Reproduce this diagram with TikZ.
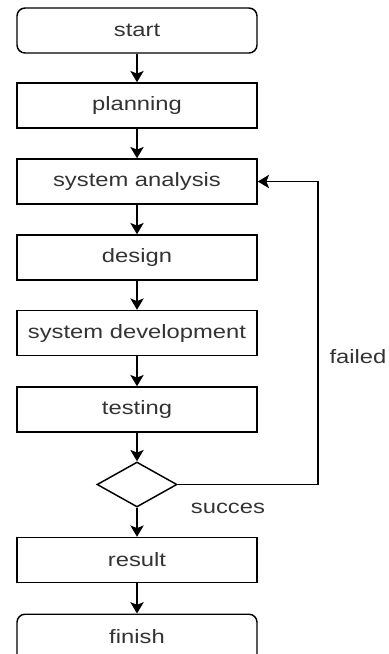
\documentclass[tikz,border=0pt]{standalone}
\usepackage{fontspec}
\setmainfont{Liberation Sans}
\usetikzlibrary{shapes.geometric,arrows.meta}

% stretched label text, as in the drawing
\newcommand{\widelabel}[1]{\scalebox{1.23}[1]{#1}}

\begin{document}
\begin{tikzpicture}[x=0.75pt,y=0.75pt,yscale=-1,xscale=1,
    stepbox/.style={draw,line width=1.1pt,minimum width=180pt,minimum height=33.75pt,inner sep=0pt},
    endbox/.style={stepbox,rounded corners=6pt},
    decision/.style={draw,diamond,line width=1.1pt,minimum width=60pt,minimum height=33.75pt,inner sep=0pt},
    flow/.style={line width=1.1pt,-{Stealth[length=8.5pt,width=10pt,inset=2pt]}},
    every node/.style={font=\fontsize{14.5}{17}\selectfont,text=black!80}]
    \useasboundingbox (0,0) rectangle (389,654);

    % Boxes
    \node [endbox] (start) at (137,30.5) {\widelabel{start}};
    \node [stepbox] (planning) at (137,105.5) {\widelabel{planning}};
    \node [stepbox] (analysis) at (137,181.5) {\widelabel{system analysis}};
    \node [stepbox] (design) at (137,257.5) {\widelabel{design}};
    \node [stepbox] (development) at (137,333) {\widelabel{system development}};
    \node [stepbox] (testing) at (137,409.5) {\widelabel{testing}};
    \node [decision] (check) at (137,484.5) {};
    \node [stepbox] (result) at (137,560) {\widelabel{result}};
    % runs off the bottom edge
    \node [endbox,anchor=north,text height=22pt,text depth=22pt] (finish) at (137,613.5) {\widelabel{finish}};

    % Arrows
    \draw [flow] (start) -- (planning);
    \draw [flow] (planning) -- (analysis);
    \draw [flow] (analysis) -- (design);
    \draw [flow] (design) -- (development);
    \draw [flow] (development) -- (testing);
    \draw [flow] (testing) -- (check);
    \draw [flow] (check) -- (result);
    \draw [flow] (result) -- (finish.north);

    % Loop back
    \coordinate (turn) at (318,484.5);
    \draw [flow] (check.east) -- (turn) |- (analysis.east);

    % Text Node
    \node (failed) at (358,357) {\widelabel{failed}};
    % Text Node
    \node (succes) at (228,508) {\widelabel{succes}};
\end{tikzpicture}
\end{document}
